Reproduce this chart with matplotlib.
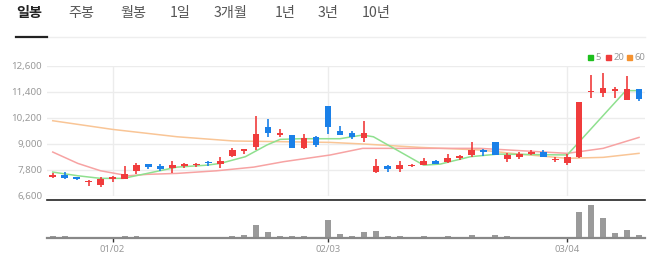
import matplotlib
matplotlib.use("Agg")
import matplotlib.pyplot as plt
import numpy as np

# ---------------- data ----------------
opens  = [7480, 7560, 7460, 7240, 7110, 7350, 7355, 7740, 8050, 7970,
          7860, 7970, 8010, 8160, 8075, 8430, 8660, 8860, 9755, 9400,
          9400, 8790, 9290, 10750, 9600, 9480, 9275, 7700, 7985, 7820,
          7990, 8030, 8200, 8140, 8350, 8460, 8710, 9080, 8280, 8400,
          8510, 8615, 8230, 8090, 8385, 11390, 11340, 11450, 11000, 11525]
closes = [7550, 7400, 7350, 7290, 7350, 7440, 7600, 8000, 7940, 7830,
          8000, 8075, 8060, 8100, 8210, 8700, 8750, 9440, 9510, 9510,
          8810, 9275, 8940, 9755, 9400, 9320, 9510, 7955, 7820, 8030,
          8030, 8200, 8075, 8350, 8420, 8690, 8630, 8460, 8480, 8535,
          8630, 8385, 8310, 8385, 10925, 11440, 11590, 11510, 11525, 11075]
highs  = [7630, 7680, 7480, 7330, 7475, 7510, 7970, 8100, 8060, 8050,
          8200, 8120, 8120, 8220, 8400, 8800, 8750, 10280, 10125, 9680,
          9400, 9460, 9340, 10750, 9815, 9585, 10050, 8290, 8000, 8215,
          8060, 8350, 8250, 8510, 8460, 9060, 8755, 9080, 8555, 8615,
          8710, 8710, 8370, 8510, 10925, 12170, 12250, 11630, 12125, 11525]
lows   = [7420, 7350, 7310, 7060, 7010, 7240, 7355, 7600, 7840, 7760,
          7630, 7880, 7940, 7990, 7890, 8370, 8520, 8710, 9320, 9320,
          8810, 8755, 8850, 9450, 9400, 9215, 9090, 7660, 7710, 7710,
          7910, 8000, 8075, 8110, 8260, 8400, 8445, 8460, 8170, 8280,
          8480, 8385, 8140, 8015, 8350, 11120, 11140, 11120, 11000, 10985]
volumes = [34, 34, 14, 14, 14, 14, 34, 34, 14, 14,
           14, 14, 14, 14, 14, 34, 46, 254, 120, 34,
           34, 26, 14, 346, 66, 26, 106, 134, 26, 40,
           14, 26, 14, 26, 14, 46, 14, 46, 26, 14,
           14, 14, 14, 14, 506, 654, 386, 86, 160, 46]  # thousand shares

# moving averages read at their visible vertices (candle index, price)
ma5_idx  = [0, 2.1, 4, 5.9, 7.9, 10.4, 12.9, 14, 16.1, 17.9, 19, 20.7, 24, 25.9, 26.8, 31, 32.4, 34.9, 37.2, 43, 47.9, 49]
ma5_val  = [7690, 7520, 7400, 7400, 7630, 7920, 8010, 8090, 8400, 8940, 9200, 9230, 9230, 9400, 9320, 8010, 8060, 8400, 8520, 8480, 11450, 11450]
ma20_idx = [0, 2.1, 4, 6.3, 7.9, 10.4, 13.7, 16.8, 19.3, 23.2, 25.9, 30.7, 35.7, 43, 46, 49]
ma20_val = [8615, 8090, 7750, 7520, 7585, 7630, 7750, 7920, 8170, 8480, 8785, 8785, 8785, 8555, 8785, 9290]
ma60_idx = [0, 5, 10.4, 15.1, 23.2, 26, 30.7, 35.7, 39, 43, 46, 49]
ma60_val = [10060, 9660, 9320, 9125, 9060, 8985, 8830, 8710, 8520, 8325, 8370, 8555]

y_ticks = [6600, 7800, 9000, 10200, 11400, 12600]
x_tick_idx = [5, 23, 43]
x_tick_labels = ["01/02", "02/03", "03/04"]
tabs = ["일봉", "주봉", "월봉", "1일", "3개월", "1년", "3년", "10년"]
legend_labels = ["5", "20", "60"]

# ---------------- style ----------------
W, H = 659, 260
RED = "#f03c3c"
BLUE = "#1a80e8"
LEG_COLORS = ["#1dbf1d", "#f03c3c", "#f5922f"]
MA_COLORS = ["#8fe08f", "#f7a3a3", "#f9c596"]
GRID = "#ececec"
TXT = "#999999"

plt.rcParams['font.family'] = ['Noto Sans', 'DejaVu Sans']
fig = plt.figure(figsize=(W / 100, H / 100), dpi=100)

def fx(px):
    return px / W

def fy(py):
    return 1 - py / H

# tabs
tab_x = [16.5, 68, 120, 170, 214, 275, 318, 362]
for i, (t, x) in enumerate(zip(tabs, tab_x)):
    fig.text(fx(x), fy(13), t, fontsize=10.2,
             family=['Noto Sans CJK KR', 'DejaVu Sans'],
             fontweight='bold' if i == 0 else 'normal',
             color='#222222' if i == 0 else '#555555',
             ha='left', va='center')
fig.add_artist(plt.Line2D([fx(47), fx(645)], [fy(37.5), fy(37.5)], color='#eeeeee', lw=1))
fig.add_artist(plt.Line2D([fx(16), fx(47)], [fy(37.5), fy(37.5)], color='#222222', lw=1.6))

# legend
leg_sq_x = [588.3, 605.7, 626.7]
for c, lab, x in zip(LEG_COLORS, legend_labels, leg_sq_x):
    fig.patches.append(plt.Rectangle((fx(x), fy(59.8)), fx(5), 5 / H, color=c,
                                     transform=fig.transFigure, figure=fig))
    fig.text(fx(x + 7.5), fy(57.3), lab, fontsize=6.8, color=TXT, ha='left', va='center')

# ---------------- main axes ----------------
n = len(opens)
idx = np.arange(n)
ax = fig.add_axes([fx(47), fy(195.7), fx(598), 130 / H])
ax.set_xlim(-0.48, 49.5)
ax.set_ylim(6600, 12600)
for s in ax.spines.values():
    s.set_visible(False)
ax.set_yticks(y_ticks)
ax.set_yticklabels([f"{v:,}" for v in y_ticks])
ax.tick_params(axis='y', length=0, pad=3.5, labelsize=7, labelcolor=TXT)
ax.set_xticks(x_tick_idx)
ax.tick_params(axis='x', length=0, labelbottom=False)
ax.grid(True, color=GRID, lw=1)
ax.set_axisbelow(True)

ax.plot(ma60_idx, ma60_val, color=MA_COLORS[2], lw=1.1, zorder=2)
ax.plot(ma20_idx, ma20_val, color=MA_COLORS[1], lw=1.1, zorder=2)
ax.plot(ma5_idx, ma5_val, color=MA_COLORS[0], lw=1.1, zorder=2)

o = np.array(opens); c = np.array(closes)
hi = np.array(highs); lo = np.array(lows)
colors = [RED if cc >= oo else BLUE for oo, cc in zip(o, c)]
ax.vlines(idx, lo, hi, colors=colors, lw=1.2, zorder=3)
bottoms = np.minimum(o, c)
heights = np.maximum(np.abs(c - o), 45)
ax.bar(idx, heights, bottom=bottoms, width=0.55, color=colors, lw=0, zorder=4)

# ---------------- volume axes ----------------
vax = fig.add_axes([fx(47), fy(237.7), fx(598), 37.4 / H])
vax.set_xlim(-0.48, 49.5)
vmax = max(volumes)
vax.set_ylim(0, vmax * 37.4 / 32.7)
for s in vax.spines.values():
    s.set_visible(False)
vax.bar(idx, volumes, width=0.5, color='#9a9a9a', lw=0, zorder=2)
vax.axhline(vax.get_ylim()[1], color='#222222', lw=1.2, zorder=3, clip_on=False)
vax.axhline(0, color='#888888', lw=1.6, zorder=3, clip_on=False)
vax.set_yticks([])
vax.set_xticks(x_tick_idx)
vax.set_xticklabels(x_tick_labels)
vax.tick_params(axis='x', length=3, width=1, color='#333333', pad=2,
                labelsize=6.8, labelcolor=TXT)

fig.savefig("out.png", dpi=100, facecolor='white')
